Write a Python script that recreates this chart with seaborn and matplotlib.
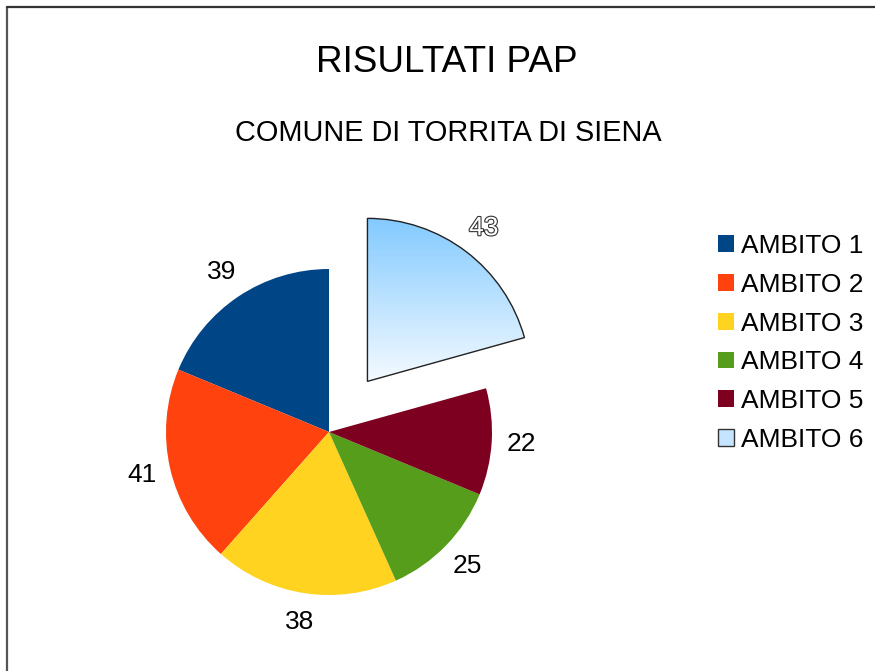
import numpy as np
import matplotlib
matplotlib.use("Agg")
import matplotlib.pyplot as plt
import matplotlib.patheffects as pe
from matplotlib.lines import Line2D
from matplotlib.patches import Patch
import seaborn as sns

# data
ambiti = ["AMBITO 1", "AMBITO 2", "AMBITO 3", "AMBITO 4", "AMBITO 5", "AMBITO 6"]
valori = [39, 41, 38, 25, 22, 43]
colori = ["#004586", "#ff420e", "#ffd320", "#579d1c", "#7e0021", "#83caff"]
esploso = [0, 0, 0, 0, 0, 0.39]

titolo = "RISULTATI PAP"
sottotitolo = "COMUNE DI TORRITA DI SIENA"

sns.set_theme(style="white")
plt.rcParams["font.family"] = ["Liberation Sans", "DejaVu Sans"]
plt.rcParams["text.color"] = "black"

W, H = 875, 671
fig = plt.figure(figsize=(W / 100, H / 100), dpi=100)
fig.patch.set_facecolor("white")

# pie centre at (329, 432) px, radius 163 px
r_px = 163
cx, cy = 329, H - 432
ax = fig.add_axes([(cx - 1.5 * r_px) / W, (cy - 1.4 * r_px) / H,
                   3 * r_px / W, 3 * r_px / H])

totale = sum(valori)
wedges, _, numeri = ax.pie(
    valori, colors=colori, startangle=90, counterclock=True,
    explode=esploso, radius=1,
    autopct=lambda p: f"{round(p * totale / 100)}", pctdistance=1.18,
    wedgeprops=dict(linewidth=0),
    textprops=dict(fontsize=19, color="black"),
)
ax.set_xlim(-1.5, 1.5)
ax.set_ylim(-1.4, 1.6)
ax.set_aspect("equal")
ax.axis("off")

# gradient fill for the exploded slice
w6 = wedges[5]
w6.set_facecolor("none")
w6.set_edgecolor("#222222")
w6.set_linewidth(1.0)
w6.set_zorder(3)
vx, vy = w6.center
top_col = np.array([0x83, 0xca, 0xff]) / 255
bot_col = np.array([0xf4, 0xfa, 0xff]) / 255
t = np.linspace(0, 1, 256)[:, None]
grad = (top_col * (1 - t) + bot_col * t)[:, None, :]
img = ax.imshow(grad, extent=[vx - 0.05, vx + 1.05, vy, vy + 1.0],
                aspect="auto", zorder=2, interpolation="bilinear")
img.set_clip_path(w6)

# outlined label on the exploded slice
numeri[5].set_color("white")
numeri[5].set_path_effects([pe.Stroke(linewidth=1.6, foreground="#333333"), pe.Normal()])

# legend
handles = [Patch(facecolor=c, edgecolor=c, linewidth=0) for c in colori[:5]]
handles.append(Patch(facecolor="#c4e4ff", edgecolor="#333333", linewidth=1.0))
fig.legend(handles, ambiti, loc="upper left",
           bbox_to_anchor=(718 / W, 1 - 234 / H),
           frameon=False, fontsize=19, labelcolor="black",
           borderpad=0, borderaxespad=0,
           handlelength=0.6, handleheight=0.6, handletextpad=0.28,
           labelspacing=0.56)

# titles
fig.text(447 / W, 1 - 63 / H, titolo, ha="center", va="center",
         fontsize=26.6, color="black")
fig.text(448 / W, 1 - 133 / H, sottotitolo, ha="center", va="center",
         fontsize=20.8, color="black")

# chart frame (top and left edges visible)
fig.add_artist(Line2D([7 / W, 7 / W], [0, 1 - 7 / H], color="#555555", lw=1.6))
fig.add_artist(Line2D([7 / W, 1], [1 - 7 / H, 1 - 7 / H], color="#333333", lw=1.6))

fig.savefig("out.png", dpi=100)
